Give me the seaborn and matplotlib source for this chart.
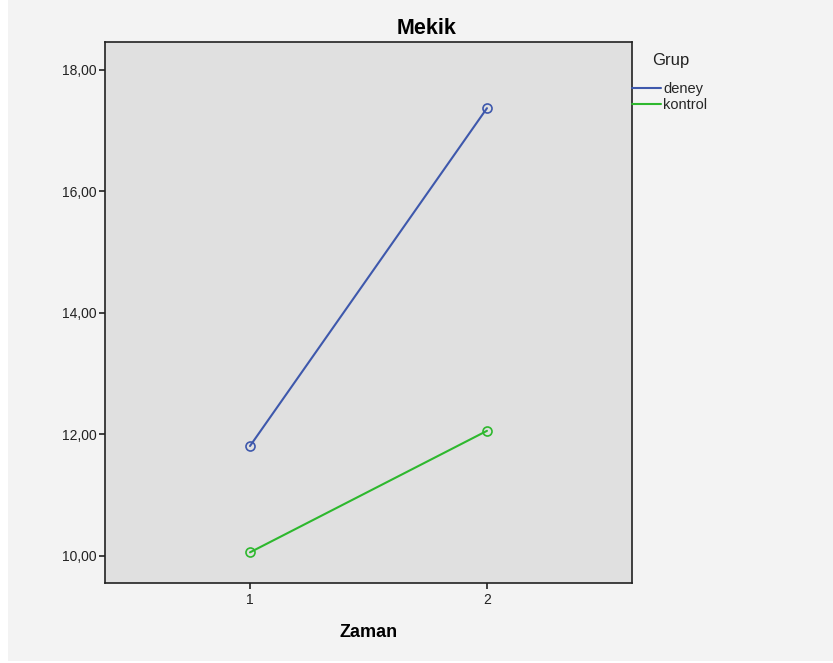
import numpy as np
import pandas as pd
import matplotlib
matplotlib.use("Agg")
import matplotlib.pyplot as plt
import seaborn as sns
from matplotlib.lines import Line2D
from matplotlib.patches import Rectangle

# Veriler
zaman = [1, 2]
deney = [11.81, 17.37]
kontrol = [10.06, 12.06]
gruplar = ["deney", "kontrol"]
renkler = ["#3e58ac", "#2eb82e"]

df = pd.DataFrame({
    "Zaman": zaman * 2,
    "Mekik": deney + kontrol,
    "Grup": [gruplar[0]] * 2 + [gruplar[1]] * 2,
})

sns.set_style("white")
plt.rcParams['font.family'] = ['Liberation Sans', 'DejaVu Sans']

fig = plt.figure(figsize=(8.33, 6.63), dpi=100)
fig.patch.set_facecolor("#f3f3f3")
# ekran görüntüsündeki beyaz kenarlar
fig.patches.append(Rectangle((0, 0), 8 / 833, 1, transform=fig.transFigure,
                             facecolor="white", edgecolor="none", zorder=0))
fig.patches.append(Rectangle((0, 0), 1, 2 / 663, transform=fig.transFigure,
                             facecolor="white", edgecolor="none", zorder=0))

ax = fig.add_axes([0.126, 0.1207, 0.6327, 0.816])
ax.set_facecolor("#e0e0e0")

sns.lineplot(data=df, x="Zaman", y="Mekik", hue="Grup", palette=renkler,
             marker="o", markersize=6.5, markerfacecolor="none", markeredgewidth=1.2,
             linewidth=1.5, ax=ax, legend=False)
# marker kenarları çizgi rengiyle aynı
for line, c in zip(ax.lines, renkler):
    line.set_markeredgecolor(c)

ax.set_xlim(0.388, 2.612)
ax.set_ylim(9.556, 18.46)
ax.set_xticks(zaman)
ax.set_xticklabels([str(z) for z in zaman])
yt = [10, 12, 14, 16, 18]
ax.set_yticks(yt)
ax.set_yticklabels([f"{v:.2f}".replace(".", ",") for v in yt])
ax.tick_params(axis="both", direction="out", length=4.5, width=1.2, colors="#222222",
               labelsize=10, left=True, bottom=True, pad=1.5)
ax.tick_params(axis="x", pad=3)
for s in ax.spines.values():
    s.set_color("#222222")
    s.set_linewidth(1.2)

# başlık: eksen + lejant alanının ortasında
fig.text(427 / 833, 1 - 28 / 663, "Mekik", fontsize=15.5, fontweight="bold",
         ha="center", va="center", color="black")
ax.set_xlabel("Zaman", fontsize=13, fontweight="bold", labelpad=12, color="black")
ax.set_ylabel("")

# lejant
fig.text(671 / 833, 1 - 60 / 663, "Grup", fontsize=12, ha="center", va="center",
         color="#222222")
handles = [Line2D([0], [0], color=c, lw=1.5) for c in renkler]
leg = fig.legend(handles, gruplar, loc="upper left",
                 bbox_to_anchor=(0.7587, 0.8763), frameon=False, fontsize=10.5,
                 handlelength=2.0, handletextpad=0.15,
                 labelspacing=0.15, borderpad=0, borderaxespad=0)

fig.savefig("out.png", dpi=100, facecolor=fig.get_facecolor())
